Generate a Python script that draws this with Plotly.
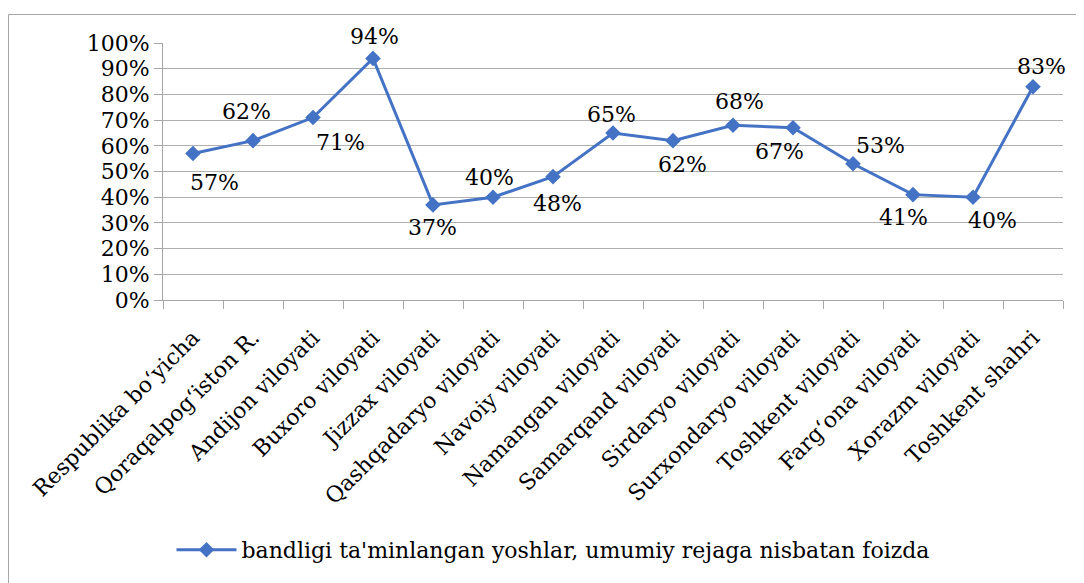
import plotly.graph_objects as go

categories = ["Respublika bo\u02bbyicha", "Qoraqalpog\u02bbiston R.", "Andijon viloyati",
              "Buxoro viloyati", "Jizzax viloyati", "Qashqadaryo viloyati",
              "Navoiy viloyati", "Namangan viloyati", "Samarqand viloyati",
              "Sirdaryo viloyati", "Surxondaryo viloyati", "Toshkent viloyati",
              "Farg\u02bbona viloyati", "Xorazm viloyati", "Toshkent shahri"]
values = [0.57, 0.62, 0.71, 0.94, 0.37, 0.40, 0.48, 0.65, 0.62, 0.68, 0.67, 0.53, 0.41, 0.40, 0.83]
series_name = "bandligi ta'minlangan yoshlar, umumiy rejaga nisbatan foizda"
y_ticks = [i / 10 for i in range(11)]

# data-label offsets from each point, in pixels (right, down) — styling only
label_dx = [21, -7, 27, 1, -1, -4, 4, -2, 9, 6, -14, 27, -10, 19, 8]
label_dy = [29, -29, 25, -22, 23, -20, 27, -18, 24, -24, 24, -18, 23, 23, -20]

# page body has an 8px default margin
OFF = 8
VW, VH = 1084, 583
W, H = VW - OFF, VH - OFF
# plot area in viewport pixels
PX0, PX1, PY0, PY1 = 163, 1063, 43, 300
L, R, T, B = PX0 - OFF, VW - PX1, PY0 - OFF, VH - PY1
pw, ph = PX1 - PX0, PY1 - PY0

def px_x(x):
    return (x - PX0) / pw

def px_y(y):
    return (PY1 - y) / ph

FONT = "DejaVu Serif"

fig = go.Figure()
fig.add_trace(go.Scatter(
    x=categories, y=values, mode="lines+markers", name=series_name,
    line=dict(color="#4472C4", width=3),
    marker=dict(symbol="diamond", size=12, color="#4472C4"),
    cliponaxis=False,
))

annotations = [
    dict(x=c, y=v, xref="x", yref="y", text=f"{round(v*100)}%", showarrow=False,
         xshift=dx, yshift=-dy, xanchor="center", yanchor="middle",
         font=dict(family=FONT, size=22, color="#000000"))
    for c, v, dx, dy in zip(categories, values, label_dx, label_dy)
]

fig.update_layout(
    width=W, height=H,
    margin=dict(l=L, r=R, t=T, b=B, autoexpand=False),
    paper_bgcolor="white", plot_bgcolor="white",
    font=dict(family=FONT, color="#000000"),
    showlegend=True,
    legend=dict(orientation="h", x=px_x(553), xanchor="center",
                y=px_y(550), yanchor="middle",
                font=dict(family=FONT, size=22, color="#000000"),
                itemwidth=60, bgcolor="rgba(0,0,0,0)"),
    xaxis=dict(type="category", range=[-0.5, len(categories) - 0.5],
               tickson="boundaries", ticks="outside", ticklen=8,
               tickcolor="#A6A6A6", showline=True, linecolor="#A6A6A6", linewidth=1,
               tickangle=-45, showgrid=False, automargin=False,
               ticklabelstandoff=15,
               tickfont=dict(family=FONT, size=22, color="#000000")),
    yaxis=dict(range=[0, 1], tickvals=y_ticks, tickformat=".0%",
               ticks="outside", ticklen=8, tickcolor="#A6A6A6",
               showline=True, linecolor="#A6A6A6", linewidth=1,
               showgrid=True, gridcolor="#B0B0B0", gridwidth=1, zeroline=False,
               automargin=False,
               tickfont=dict(family=FONT, size=22, color="#000000")),
    annotations=annotations,
    shapes=[dict(type="rect", xref="paper", yref="paper",
                 x0=px_x(8.5), x1=px_x(1100), y0=px_y(14.5), y1=px_y(600),
                 line=dict(color="#A6A6A6", width=1), fillcolor="rgba(0,0,0,0)",
                 layer="below")],
)

fig.write_html("out.html")
